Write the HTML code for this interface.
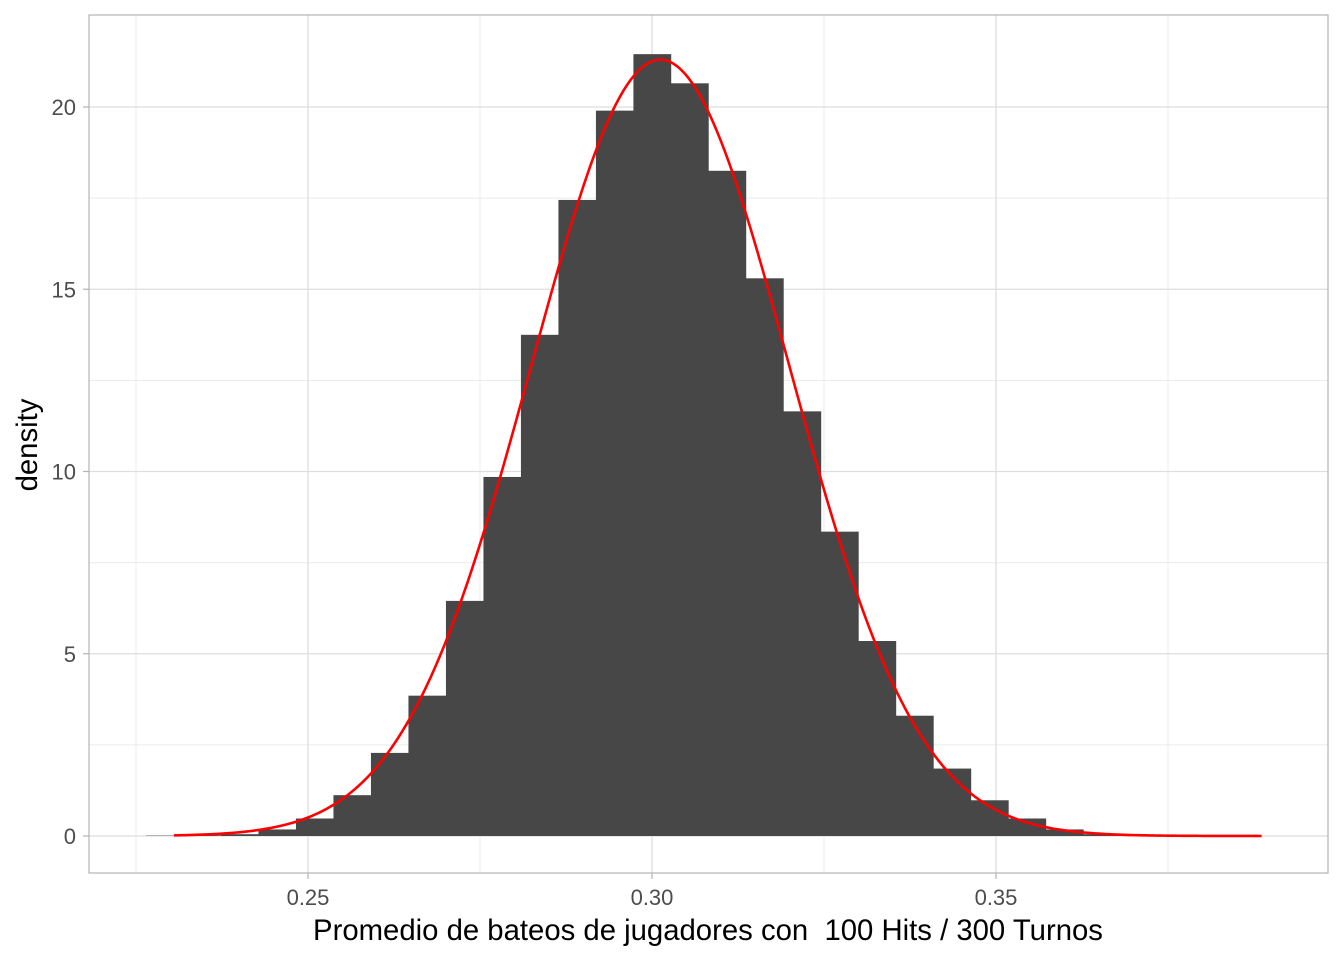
<!DOCTYPE html>
<html><head><meta charset="utf-8"><style>
body{margin:0;background:#fff}
svg{display:block;font-family:"Liberation Sans",Arial,sans-serif}
</style></head><body>
<svg id="chart" width="1344" height="960"></svg>
<script>
const binStart = 0.22645;
const binWidth = 0.00545;
const densities = [0.01,0.02,0.05,0.18,0.48,1.12,2.28,3.85,6.45,9.85,13.75,17.45,19.9,21.45,20.65,18.25,15.3,11.65,8.35,5.35,3.3,1.85,0.98,0.48,0.18,0.05,0.01];
const curveMean = [0.3012];
const curveSd = [0.01873];
const curveRange = [0.2305,0.3886];
const xTicks = [0.25,0.30,0.35];
const xTickLabels = ["0.25","0.30","0.35"];
const xMinor = [0.225,0.275,0.325,0.375];
const yTicks = [0,5,10,15,20];
const yMinor = [2.5,7.5,12.5,17.5];

const NS="http://www.w3.org/2000/svg";
const svg=document.getElementById('chart');
const L=89,R=1328,T=15,B=873;
const xs=v=>652+(v-0.30)*6880;
const ys=v=>836-v*36.45;
function mk(tag,attrs,parent){const e=document.createElementNS(NS,tag);for(const k in attrs)e.setAttribute(k,attrs[k]);(parent||svg).appendChild(e);return e;}

const grid=mk('g',{});


xMinor.forEach(v=>mk('line',{x1:xs(v),x2:xs(v),y1:T,y2:B,stroke:'#ebebeb','stroke-width':1},grid));
yMinor.forEach(v=>mk('line',{x1:L,x2:R,y1:ys(v),y2:ys(v),stroke:'#ebebeb','stroke-width':1},grid));
xTicks.forEach(v=>mk('line',{x1:xs(v),x2:xs(v),y1:T,y2:B,stroke:'#dedede','stroke-width':1.3},grid));
yTicks.forEach(v=>mk('line',{x1:L,x2:R,y1:ys(v),y2:ys(v),stroke:'#dedede','stroke-width':1.3},grid));

const bars=mk('g',{});


densities.forEach((d,i)=>{
  const x0=xs(binStart+i*binWidth),x1=xs(binStart+(i+1)*binWidth);
  const r=mk('rect',{x:x0,y:ys(d),width:x1-x0+0.3,height:ys(0)-ys(d),fill:'#474747'},bars);
  
  
});

let pts=[];
const m=curveMean[0],s=curveSd[0];
for(let k=0;k<=300;k++){
  const v=curveRange[0]+(curveRange[1]-curveRange[0])*k/300;
  const d=Math.exp(-0.5*((v-m)/s)**2)/(s*Math.sqrt(2*Math.PI));
  pts.push(xs(v).toFixed(2)+','+ys(d).toFixed(2));
}
const curve=mk('polyline',{points:pts.join(' '),fill:'none',stroke:'#ff0000','stroke-width':2.6});



const border=mk('rect',{x:L,y:T,width:R-L,height:B-T,fill:'none',stroke:'#b3b3b3','stroke-width':1.2});



const xa=mk('g',{});


xTicks.forEach((v,i)=>{
  mk('line',{x1:xs(v),x2:xs(v),y1:B,y2:B+6,stroke:'#b3b3b3','stroke-width':1.2},xa);
  const t=mk('text',{x:xs(v),y:B+32,'text-anchor':'middle','font-size':22,fill:'#4d4d4d'},xa);
  t.textContent=xTickLabels[i];
  
  
});
const ya=mk('g',{});


yTicks.forEach(v=>{
  mk('line',{x1:L-6,x2:L,y1:ys(v),y2:ys(v),stroke:'#b3b3b3','stroke-width':1.2},ya);
  const t=mk('text',{x:L-13,y:ys(v)+8,'text-anchor':'end','font-size':22,fill:'#4d4d4d'},ya);
  t.textContent=String(v);
  
  
});
</script>
<svg width="1344" height="960" style="position:absolute;left:0;top:0">
<text x="708" y="940" text-anchor="middle" font-size="29.3" fill="#000" style="white-space:pre" font-family="Liberation Sans, Arial, sans-serif">Promedio de bateos de jugadores con  100 Hits / 300 Turnos</text>
<text transform="translate(37,445) rotate(-90)" text-anchor="middle" font-size="29.3" fill="#000" font-family="Liberation Sans, Arial, sans-serif">density</text>
</svg>
</body></html>
